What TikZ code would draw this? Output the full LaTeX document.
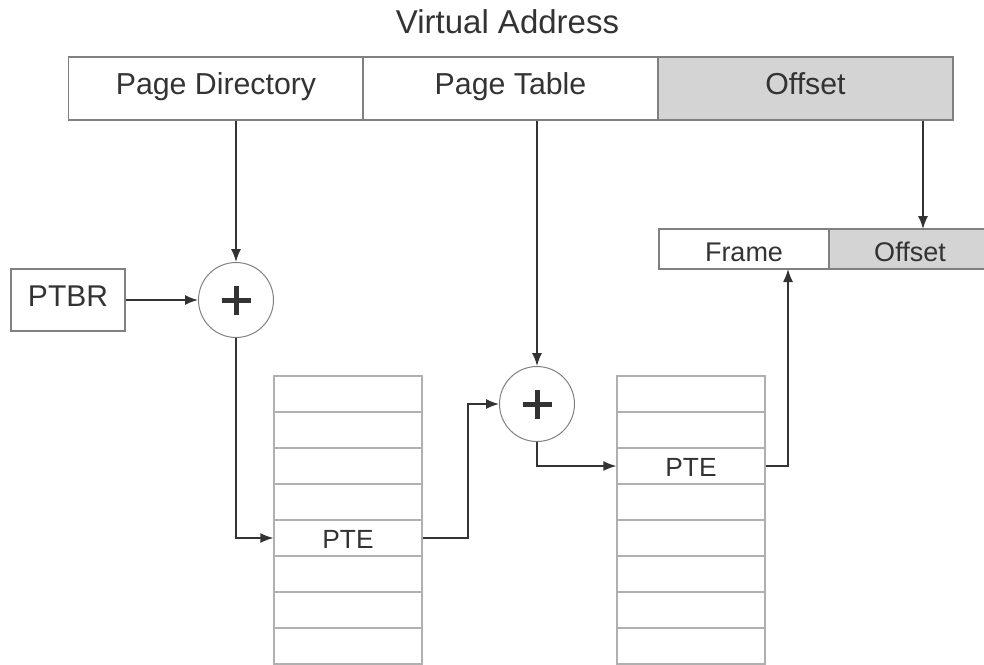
\documentclass[tikz,border=0pt]{standalone}
\usepackage{fontspec}
\setmainfont{Liberation Sans}
\usetikzlibrary{arrows.meta,calc}
\definecolor{ink}{HTML}{333333}
\definecolor{edge}{HTML}{808080}
\definecolor{rowline}{HTML}{B0B0B0}
\definecolor{shade}{HTML}{D4D4D4}
\tikzset{
  field/.style={draw=edge, line width=1.2pt, rectangle, inner sep=0pt, text=ink},
  vafield/.style={field, minimum width=295pt, minimum height=63pt,
    font=\fontsize{30.3}{34}\selectfont, text height=22.7pt, text depth=10pt},
  pafield/.style={field, minimum height=40pt,
    font=\fontsize{27}{31}\selectfont, text height=25.3pt, text depth=0pt},
  row/.style={draw=rowline, line width=1.2pt, rectangle, inner sep=0pt, text=ink,
    minimum width=148pt, minimum height=36pt, font=\fontsize{26.3}{30}\selectfont,
    text height=21.8pt, text depth=0pt},
  adder/.style={circle, draw=edge, line width=1pt, minimum size=75pt, inner sep=0pt,
    path picture={
      \draw[ink, line width=5pt] ($(path picture bounding box.center)+(-14.5pt,0)$) -- ++(29pt,0);
      \draw[ink, line width=5pt] ($(path picture bounding box.center)+(0,-14.5pt)$) -- ++(0,29pt);
    }},
  conn/.style={draw=ink, line width=1.5pt, -{Latex[length=13pt,width=10pt]}},
}
\begin{document}
\begin{tikzpicture}[x=1pt,y=-1pt]
\useasboundingbox (0,0) rectangle (984,664);
% title
\node[text=ink, font=\fontsize{33}{37}\selectfont, anchor=base, inner sep=0pt] (title) at (507.5,33.3) {Virtual Address};
% virtual address fields
\node[vafield] (pd) at (216,88.5) {Page Directory};
\node[vafield] (pt) at (510.5,88.5) {Page Table};
\node[vafield, fill=shade] (off) at (805.5,88.5) {Offset};
% PTBR
\node[field, minimum width=114pt, minimum height=62pt,
  font=\fontsize{30}{34}\selectfont, text height=22.5pt, text depth=10pt] (ptbr) at (68,300) {PTBR};
% adders
\node[adder] (c1) at (236,300) {};
\node[adder] (c2) at (537,404) {};
% physical address
\node[pafield, minimum width=170pt] (fr) at (744,249) {Frame};
\node[pafield, fill=shade, minimum width=162pt] (off2) at (910,249) {Offset};
% table 1
\node[row] (a1) at (348,394) {};
\node[row] (a2) at (348,430) {};
\node[row] (a3) at (348,466) {};
\node[row] (a4) at (348,502) {};
\node[row] (a5) at (348,538) {PTE};
\node[row] (a6) at (348,574) {};
\node[row] (a7) at (348,610) {};
\node[row] (a8) at (348,646) {};
% table 2
\node[row] (b1) at (691,394) {};
\node[row] (b2) at (691,430) {};
\node[row] (b3) at (691,466) {PTE};
\node[row] (b4) at (691,502) {};
\node[row] (b5) at (691,538) {};
\node[row] (b6) at (691,574) {};
\node[row] (b7) at (691,610) {};
\node[row] (b8) at (691,646) {};
% junctions
\coordinate (j1) at (468,538);
\coordinate (fin) at (788,269);
\coordinate (oin) at (923,229);
% connectors
\draw[conn] (c1 |- pd.south) -- (c1.north);
\draw[conn] (ptbr.east) -- (c1.west);
\draw[conn] (c1.south) |- (a5.west);
\draw[conn] (a5.east) -- (j1) |- (c2.west);
\draw[conn] (c2 |- pt.south) -- (c2.north);
\draw[conn] (c2.south) |- (b3.west);
\draw[conn] (b3.east) -| (fin);
\draw[conn] (oin |- off.south) -- (oin);
\end{tikzpicture}
\end{document}
